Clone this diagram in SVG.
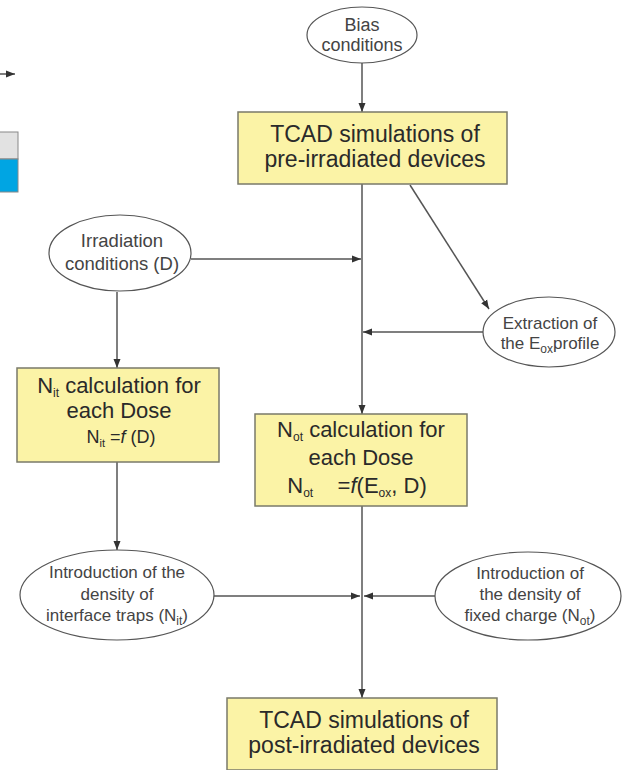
<svg xmlns="http://www.w3.org/2000/svg" width="625" height="770" viewBox="0 0 625 770">
<style>
.box{fill:#fbf3a6;stroke:#7a7a6a;stroke-width:1.5}
.ell{fill:#fff;stroke:#555;stroke-width:1.2}
.bt{font-family:"Liberation Sans",Arial,sans-serif;font-size:22px;fill:#2a2a2a;text-anchor:middle}
.et{font-family:"Liberation Sans",Arial,sans-serif;font-size:17px;fill:#444;text-anchor:middle}
.con{stroke:#555;stroke-width:1.5;fill:none}
</style>
<defs>
<marker id="ah" markerUnits="userSpaceOnUse" markerWidth="10" markerHeight="10" viewBox="0 0 10 10" refX="9" refY="5" orient="auto">
<path d="M0,1.5 L9,5 L0,8.5 Z" fill="#333"/>
</marker>
</defs>
<g id="edge-fragments">
<line x1="0" y1="74" x2="15" y2="74" class="con" marker-end="url(#ah)"/>
<rect x="-2" y="132" width="20" height="27" fill="#e2e2e2" stroke="#888" stroke-width="1"/>
<rect x="-2" y="159" width="20" height="33" fill="#00a5e3" stroke="#888" stroke-width="1"/>
</g>
<g id="connectors">
<line x1="362" y1="63" x2="362" y2="112" class="con" marker-end="url(#ah)"/>
<line x1="362" y1="184" x2="362" y2="414" class="con" marker-end="url(#ah)"/>
<line x1="191" y1="259" x2="361" y2="259" class="con" marker-end="url(#ah)"/>
<line x1="410" y1="185" x2="489" y2="309" class="con" marker-end="url(#ah)"/>
<line x1="483" y1="332" x2="363" y2="332" class="con" marker-end="url(#ah)"/>
<line x1="117" y1="292" x2="117" y2="368" class="con" marker-end="url(#ah)"/>
<line x1="117" y1="462" x2="117" y2="550" class="con" marker-end="url(#ah)"/>
<line x1="362" y1="506" x2="362" y2="698" class="con" marker-end="url(#ah)"/>
<line x1="213" y1="596" x2="360" y2="596" class="con" marker-end="url(#ah)"/>
<line x1="435" y1="596" x2="364" y2="596" class="con" marker-end="url(#ah)"/>
</g>
<g id="bias">
<ellipse cx="362" cy="35" rx="55" ry="28" class="ell"/>
<text class="et" x="362" y="31" style="font-size:18px">Bias</text>
<text class="et" x="362" y="51" style="font-size:18px">conditions</text>
</g>
<g id="tcad-pre">
<rect x="238" y="112" width="269" height="72" class="box"/>
<text class="bt" x="375" y="142" style="font-size:23px">TCAD simulations of</text>
<text class="bt" x="375" y="167" style="font-size:23px">pre-irradiated devices</text>
</g>
<g id="irradiation">
<ellipse cx="120" cy="253" rx="71" ry="38" class="ell"/>
<text class="et" x="122" y="247" style="font-size:18.5px">Irradiation</text>
<text class="et" x="122" y="270" style="font-size:18.5px">conditions (D)</text>
</g>
<g id="extraction">
<ellipse cx="549" cy="332" rx="66" ry="35" class="ell"/>
<text class="et" x="550" y="329">Extraction of</text>
<text class="et" x="550" y="349">the E<tspan font-size="12" dy="4">ox</tspan><tspan dy="-4">profile</tspan></text>
</g>
<g id="nit-calc">
<rect x="17" y="368" width="202" height="94" class="box"/>
<text class="bt" x="119" y="393">N<tspan font-size="12" dy="4">it</tspan><tspan dy="-4"> calculation for</tspan></text>
<text class="bt" x="119" y="418">each Dose</text>
<text class="bt" x="121" y="443" style="font-size:18px">N<tspan font-size="11" dy="4">it</tspan><tspan dy="-4"> =</tspan><tspan font-style="italic">f</tspan> (D)</text>
</g>
<g id="not-calc">
<rect x="255" y="414" width="212" height="92" class="box"/>
<text class="bt" x="361" y="437">N<tspan font-size="12" dy="4">ot</tspan><tspan dy="-4"> calculation for</tspan></text>
<text class="bt" x="361" y="465">each Dose</text>
<text class="bt" x="357" y="493">N<tspan font-size="12" dy="4">ot</tspan><tspan dy="-4" xml:space="preserve">    =</tspan><tspan font-style="italic">f</tspan>(E<tspan font-size="12" dy="4">ox</tspan><tspan dy="-4">, D)</tspan></text>
</g>
<g id="intro-nit">
<ellipse cx="117" cy="595" rx="97" ry="45" class="ell"/>
<text class="et" x="117" y="578">Introduction of the</text>
<text class="et" x="117" y="600">density of</text>
<text class="et" x="117" y="621">interface traps (N<tspan font-size="12" dy="4">it</tspan><tspan dy="-4">)</tspan></text>
</g>
<g id="intro-not">
<ellipse cx="528" cy="596" rx="93" ry="44" class="ell"/>
<text class="et" x="530" y="579">Introduction of</text>
<text class="et" x="530" y="600">the density of</text>
<text class="et" x="530" y="621">fixed charge (N<tspan font-size="12" dy="4">ot</tspan><tspan dy="-4">)</tspan></text>
</g>
<g id="tcad-post">
<rect x="227" y="698" width="270" height="72" class="box"/>
<text class="bt" x="364" y="728" style="font-size:23px">TCAD simulations of</text>
<text class="bt" x="364" y="753" style="font-size:23px">post-irradiated devices</text>
</g>
</svg>
